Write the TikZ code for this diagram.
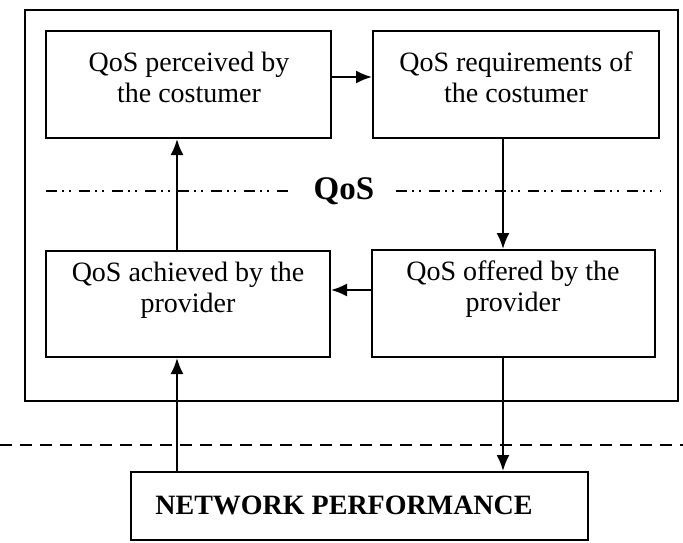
\documentclass[tikz,border=0pt]{standalone}
\usepackage{fontspec}
\setmainfont{Liberation Serif}
\usetikzlibrary{arrows.meta}
\begin{document}
\begin{tikzpicture}[x=1pt,y=-1pt,
  qbox/.style={draw, line width=2pt, rectangle, inner sep=0pt},
  qtext/.style={align=center, font=\fontsize{28}{31}\selectfont, inner sep=0pt},
  arr/.style={line width=2pt, -{Latex[length=16pt,width=13pt]}},
  dashdotline/.style={line width=1.6pt, dash pattern=on 11pt off 5pt on 2pt off 5pt on 2pt off 8pt},
  dashline/.style={line width=2pt, dash pattern=on 12pt off 8pt}]
\useasboundingbox (0,0) rectangle (683,542);
% outer frame
\node[qbox, minimum width=653pt, minimum height=391pt] (outer) at (351.5,205.5) {};
% boxes
\node[qbox, minimum width=285pt, minimum height=107pt] (tl) at (188.5,84.5) {};
\node[qbox, minimum width=286pt, minimum height=107pt] (tr) at (516,84.5) {};
\node[qbox, minimum width=284pt, minimum height=106pt] (bl) at (188,304) {};
\node[qbox, minimum width=283pt, minimum height=107pt] (br) at (513.5,303.5) {};
\node[qbox, minimum width=457pt, minimum height=68pt] (np) at (359.5,506) {};
% texts
\node[qtext] (tlt) at (189,77) {QoS perceived by\\the costumer};
\node[qtext] (trt) at (516,77) {QoS requirements of\\the costumer};
\node[qtext] (blt) at (188,290) {QoS achieved by the\\provider};
\node[qtext] (brt) at (513,289) {QoS offered by the\\provider};
\node[qtext, font=\bfseries\fontsize{28}{31}\selectfont] (npt) at (344,505) {NETWORK PERFORMANCE};
\node[font=\bfseries\fontsize{33}{36}\selectfont, inner sep=0pt] (qos) at (344,191) {QoS};
% separator lines
\coordinate (dl1) at (46,191);
\coordinate (dr2) at (661,191);
\draw[dashdotline] (dl1) -- (qos.west -| 291,0);
\draw[dashdotline] (qos.east -| 396,0) -- (dr2);
\coordinate (d1) at (0,445);
\coordinate (d2) at (683,445);
\draw[dashline] (d1) -- (d2);
% arrow anchors
\coordinate (xa) at (177,0);
\coordinate (xb) at (503,0);
\coordinate (ya) at (0,77);
\coordinate (yb) at (0,290);
% connectors
\draw[arr] (tl.east |- ya) -- (tr.west |- ya);
\draw[arr] (tr.south -| xb) -- (br.north -| xb);
\draw[arr] (br.west |- yb) -- (bl.east |- yb);
\draw[arr] (bl.north -| xa) -- (tl.south -| xa);
\draw[arr] (np.north -| xa) -- (bl.south -| xa);
\draw[arr] (br.south -| xb) -- (np.north -| xb);
\end{tikzpicture}
\end{document}
